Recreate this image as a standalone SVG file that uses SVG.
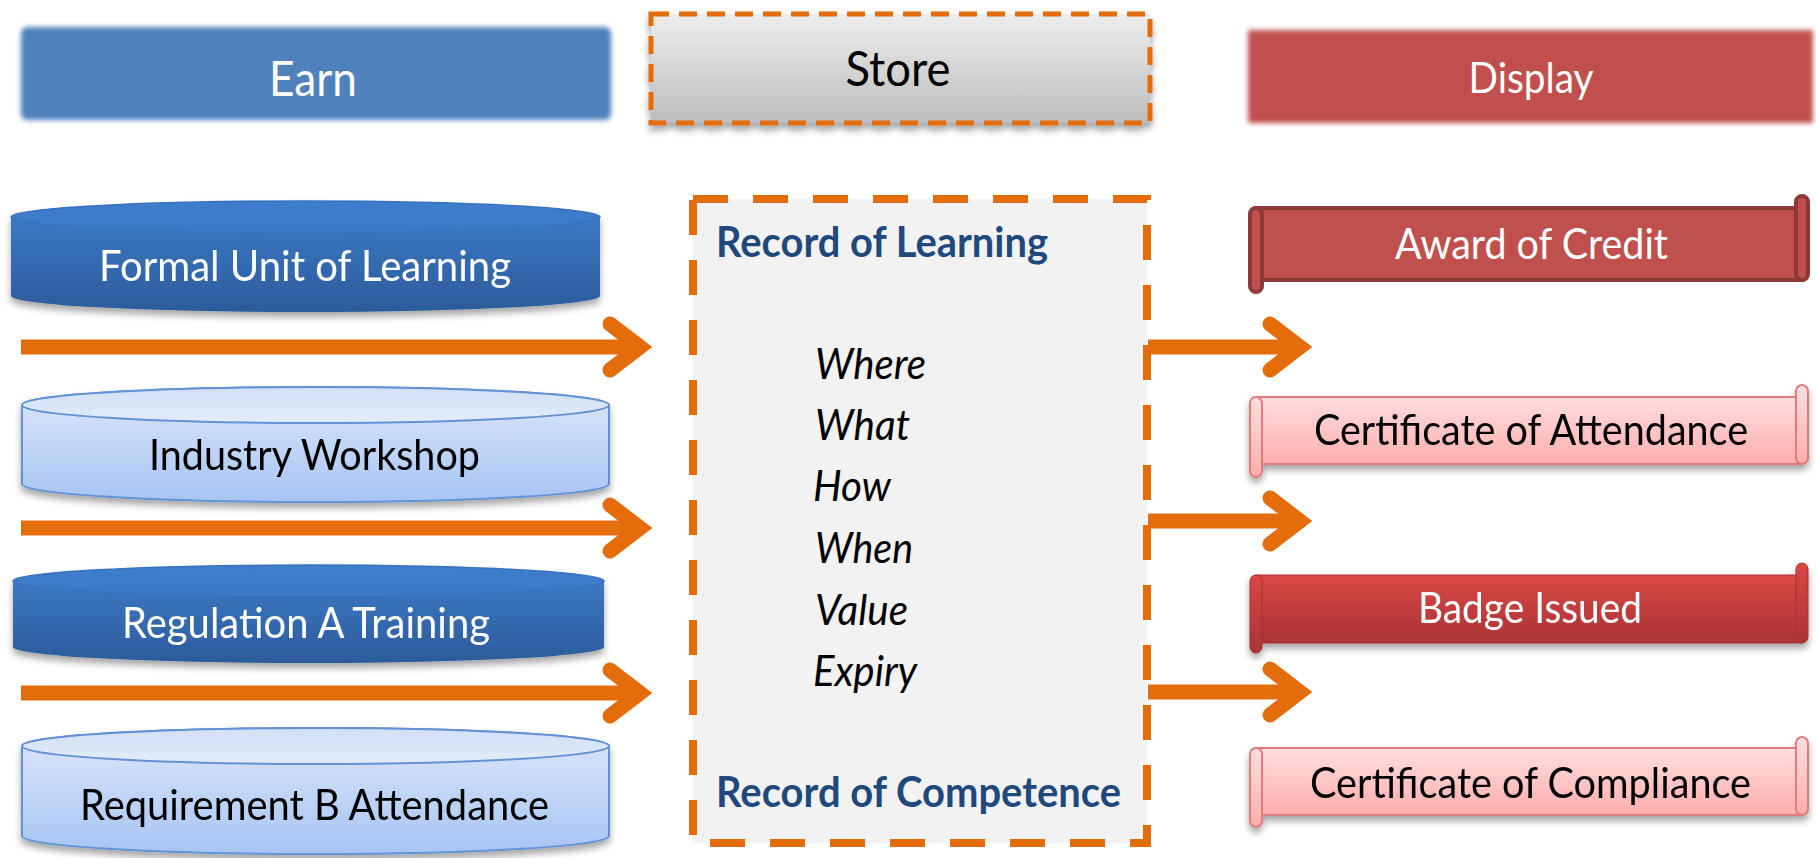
<svg xmlns="http://www.w3.org/2000/svg" width="1816" height="858" viewBox="0 0 1816 858">
<defs>
<style>
.t{font-family:Lato,"Liberation Sans",sans-serif;}
.w{fill:#ffffff;}
.k{fill:#000000;}
.b{font-weight:bold;fill:#1F497D;}
.i{font-style:italic;fill:#000000;font-size:43px;}
.arr{fill:none;stroke:#E46C0A;stroke-width:15;}
.chev{fill:none;stroke:#E46C0A;stroke-width:15;stroke-linecap:round;stroke-linejoin:miter;stroke-miterlimit:10;}
.dark{fill:url(#gDark);}
.darkTop{fill:url(#gDarkTop);stroke:#3872BC;stroke-width:1.5;}
.light{fill:url(#gLight);stroke:#6592D4;stroke-width:2;}
.lightTop{fill:url(#gLightTop);stroke:#6592D4;stroke-width:2;}
.award{fill:#C0504D;stroke:#8C3937;stroke-width:4;}
.badge{fill:url(#gBadge);stroke:#A33333;stroke-width:1;}
.cert{fill:url(#gCert);stroke:#E07C7C;stroke-width:2;}
</style>
<linearGradient id="gDark" x1="0" y1="0" x2="0" y2="1"><stop offset="0" stop-color="#3E7ECC"/><stop offset="1" stop-color="#2C5B9A"/></linearGradient>
<linearGradient id="gDarkTop" x1="0" y1="0" x2="0" y2="1"><stop offset="0" stop-color="#3E7ECD"/><stop offset="1" stop-color="#3A78C6"/></linearGradient>
<linearGradient id="gLight" x1="0" y1="0" x2="0" y2="1"><stop offset="0" stop-color="#DDE8FA"/><stop offset="1" stop-color="#A7C4F3"/></linearGradient>
<linearGradient id="gLightTop" x1="0" y1="0" x2="0" y2="1"><stop offset="0" stop-color="#D2E0F6"/><stop offset="1" stop-color="#E2ECFB"/></linearGradient>
<linearGradient id="gStore" x1="0" y1="0" x2="0" y2="1"><stop offset="0" stop-color="#EDEDED"/><stop offset="1" stop-color="#BDBDBD"/></linearGradient>
<linearGradient id="gBadge" x1="0" y1="0" x2="0" y2="1"><stop offset="0" stop-color="#DA4646"/><stop offset="1" stop-color="#A93434"/></linearGradient>
<linearGradient id="gCert" x1="0" y1="0" x2="0" y2="1"><stop offset="0" stop-color="#FFDEDE"/><stop offset="1" stop-color="#FFADAD"/></linearGradient>
<filter id="soft" x="-5%" y="-20%" width="110%" height="140%"><feGaussianBlur stdDeviation="2.5"/></filter>
<filter id="shadow" x="-5%" y="-20%" width="110%" height="150%"><feDropShadow dx="0" dy="5" stdDeviation="3.5" flood-color="#000" flood-opacity="0.35"/></filter>
</defs>
<rect x="0" y="0" width="1816" height="858" fill="#ffffff"/>

<g id="header-earn">
<rect x="21" y="27" width="590" height="93" rx="6" fill="#4F81BD" filter="url(#soft)"/>
<text class="t w" x="313" y="96" font-size="48" text-anchor="middle" textLength="88" lengthAdjust="spacingAndGlyphs">Earn</text>
</g>
<g id="header-store">
<rect x="651" y="14" width="499" height="109" fill="url(#gStore)" stroke="#E46C0A" stroke-width="5" stroke-dasharray="18 10" filter="url(#shadow)"/>
<text class="t k" x="898" y="86" font-size="49" text-anchor="middle" textLength="105" lengthAdjust="spacingAndGlyphs">Store</text>
</g>
<g id="header-display">
<rect x="1248" y="30" width="565" height="93" fill="#C0504D" filter="url(#soft)"/>
<text class="t w" x="1531" y="93" font-size="42" text-anchor="middle" textLength="125" lengthAdjust="spacingAndGlyphs">Display</text>
</g>

<g id="node-formal-unit" filter="url(#shadow)">
<path class="dark" d="M11,217 L11,296 A294.5,16 0 0 0 600,296 L600,217 A294.5,16 0 0 0 11,217 Z"/>
<ellipse class="darkTop" cx="305.5" cy="217" rx="294.5" ry="16"/>
<text class="t w" x="305" y="281" font-size="42" text-anchor="middle" textLength="412" lengthAdjust="spacingAndGlyphs">Formal Unit of Learning</text>
</g>
<g id="node-industry-workshop" filter="url(#shadow)">
<path class="light" d="M22,405 L22,484 A293.5,18 0 0 0 609,484 L609,405 A293.5,18 0 0 0 22,405 Z"/>
<ellipse class="lightTop" cx="315.5" cy="405" rx="293.5" ry="18"/>
<text class="t k" x="314.5" y="470" font-size="42" text-anchor="middle" textLength="331" lengthAdjust="spacingAndGlyphs">Industry Workshop</text>
</g>
<g id="node-regulation-a" filter="url(#shadow)">
<path class="dark" d="M13,581 L13,647 A295.5,16 0 0 0 604,647 L604,581 A295.5,16 0 0 0 13,581 Z"/>
<ellipse class="darkTop" cx="308.5" cy="581" rx="295.5" ry="16"/>
<text class="t w" x="306" y="638" font-size="42" text-anchor="middle" textLength="368" lengthAdjust="spacingAndGlyphs">Regulation A Training</text>
</g>
<g id="node-requirement-b" filter="url(#shadow)">
<path class="light" d="M22,746 L22,836 A293.5,18 0 0 0 609,836 L609,746 A293.5,18 0 0 0 22,746 Z"/>
<ellipse class="lightTop" cx="315.5" cy="746" rx="293.5" ry="18"/>
<text class="t k" x="314.5" y="820" font-size="42" text-anchor="middle" textLength="469" lengthAdjust="spacingAndGlyphs">Requirement B Attendance</text>
</g>

<g id="node-store-record">
<rect x="693" y="199" width="454" height="644" fill="#F2F2F2" stroke="#E46C0A" stroke-width="8" stroke-dasharray="35 25"/>
<text class="t b" x="716" y="257" font-size="42" textLength="332" lengthAdjust="spacingAndGlyphs">Record of Learning</text>
<text class="t i" x="815" y="379" textLength="111" lengthAdjust="spacingAndGlyphs">Where</text>
<text class="t i" x="815" y="440" textLength="95" lengthAdjust="spacingAndGlyphs">What</text>
<text class="t i" x="813" y="501" textLength="78" lengthAdjust="spacingAndGlyphs">How</text>
<text class="t i" x="815" y="563" textLength="98" lengthAdjust="spacingAndGlyphs">When</text>
<text class="t i" x="815" y="625" textLength="93" lengthAdjust="spacingAndGlyphs">Value</text>
<text class="t i" x="813" y="686" textLength="104" lengthAdjust="spacingAndGlyphs">Expiry</text>
<text class="t b" x="716" y="807" font-size="42" textLength="405" lengthAdjust="spacingAndGlyphs">Record of Competence</text>
</g>

<g id="node-award-credit">
<rect class="award" x="1256" y="208" width="546" height="72"/>
<rect class="award" x="1796" y="196" width="12" height="84" rx="6"/>
<rect class="award" x="1250" y="208" width="12" height="84" rx="6"/>
<text class="t w" x="1531.5" y="259" font-size="43" text-anchor="middle" textLength="273" lengthAdjust="spacingAndGlyphs">Award of Credit</text>
</g>
<g id="node-cert-attendance" filter="url(#shadow)">
<rect class="cert" x="1256" y="397" width="546" height="67"/>
<rect class="cert" x="1796" y="385" width="12" height="79" rx="6"/>
<rect class="cert" x="1250" y="397" width="12" height="80" rx="6"/>
<text class="t k" x="1531" y="445" font-size="42" text-anchor="middle" textLength="434" lengthAdjust="spacingAndGlyphs">Certificate of Attendance</text>
</g>
<g id="node-badge" filter="url(#shadow)">
<rect class="badge" x="1256" y="575" width="546" height="68"/>
<rect class="badge" x="1796" y="563" width="12" height="80" rx="6"/>
<rect class="badge" x="1250" y="575" width="12" height="78" rx="6"/>
<text class="t w" x="1530" y="623" font-size="43" text-anchor="middle" textLength="224" lengthAdjust="spacingAndGlyphs">Badge Issued</text>
</g>
<g id="node-cert-compliance" filter="url(#shadow)">
<rect class="cert" x="1256" y="748" width="546" height="67"/>
<rect class="cert" x="1796" y="737" width="12" height="78" rx="6"/>
<rect class="cert" x="1250" y="748" width="12" height="79" rx="6"/>
<text class="t k" x="1530.5" y="798" font-size="42" text-anchor="middle" textLength="441" lengthAdjust="spacingAndGlyphs">Certificate of Compliance</text>
</g>

<g id="connectors">
<path class="arr" d="M21,347 H640"/>
<path class="chev" d="M610,324 L640,347 L610,370"/>
<path class="arr" d="M21,528 H640"/>
<path class="chev" d="M610,505 L640,528 L610,551"/>
<path class="arr" d="M21,693 H640"/>
<path class="chev" d="M610,670 L640,693 L610,716"/>
<path class="arr" d="M1148,347 H1300"/>
<path class="chev" d="M1270,324 L1300,347 L1270,370"/>
<path class="arr" d="M1148,521 H1300"/>
<path class="chev" d="M1270,498 L1300,521 L1270,544"/>
<path class="arr" d="M1148,692 H1300"/>
<path class="chev" d="M1270,669 L1300,692 L1270,715"/>
</g>
</svg>
